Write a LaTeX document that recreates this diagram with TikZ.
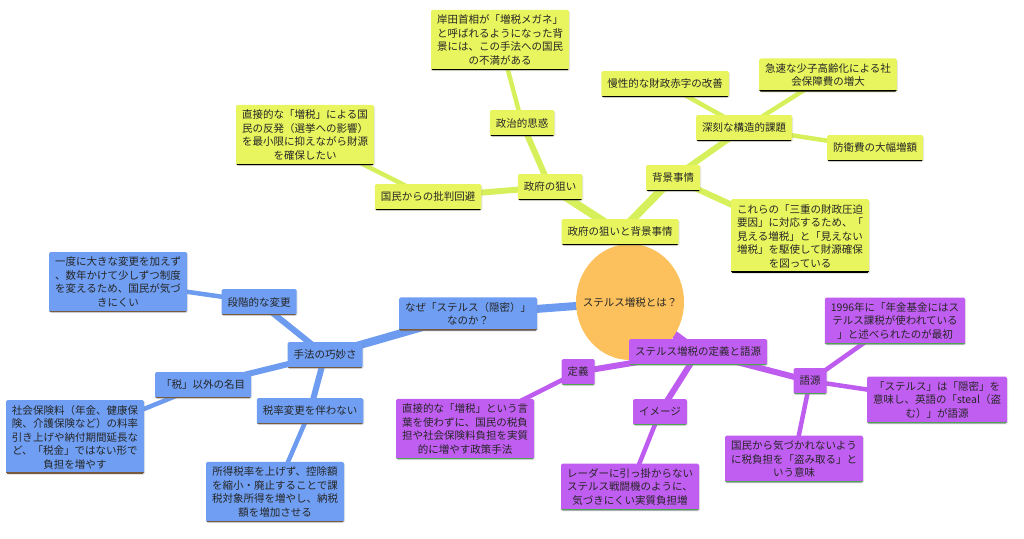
\documentclass[tikz,border=0pt]{standalone}
\usepackage{fontspec}
\setmainfont{Noto Sans CJK JP}
\usetikzlibrary{backgrounds,shadows,shapes.geometric}

\definecolor{yfill}{HTML}{E8F55E}
\definecolor{yline}{HTML}{D6F05C}
\definecolor{ybar}{HTML}{23236E}
\definecolor{bfill}{HTML}{6F9EF2}
\definecolor{bline}{HTML}{6C9BEF}
\definecolor{bbar}{HTML}{7A5A3C}
\definecolor{pfill}{HTML}{C15EF2}
\definecolor{pline}{HTML}{BE5CF0}
\definecolor{pbar}{HTML}{4EA64E}
\definecolor{corange}{HTML}{FCC05C}

\tikzset{
  box/.style={rectangle, rounded corners=1.5pt, inner xsep=6pt, inner ysep=5pt,
    align=center, font=\fontsize{10.5}{13.5}\selectfont, text=black!85,
    drop shadow={opacity=0.2, shadow xshift=1pt, shadow yshift=-1pt}},
  lab/.style={box, minimum height=26pt},
  leaf/.style={box, minimum width=136pt},
  bar/.style={path picture={\draw[#1, line width=3pt]
    (path picture bounding box.south west) -- (path picture bounding box.south east);}},
  ybox/.style={fill=yfill, bar=ybar},
  bbox/.style={fill=bfill, bar=bbar},
  pbox/.style={fill=pfill, bar=pbar},
  l1/.style={line width=8pt},
  l2/.style={line width=6pt},
  l3/.style={line width=4.5pt},
}

\begin{document}
\begin{tikzpicture}[x=1pt, y=-1pt, line cap=round]
  \useasboundingbox (0,0) rectangle (1024,538);

  \node[ellipse, fill=corange, inner sep=0pt, minimum width=108pt, minimum height=116pt,
    label={[font=\fontsize{10.5}{13.5}\selectfont, text=black!85]center:ステルス増税とは？}]
  (c) at (630, 302) {};

  % 政府の狙いと背景事情
  \node[lab, ybox] (y0) at (620, 232) {政府の狙いと背景事情};
  \node[lab, ybox] (y1) at (550, 187) {政府の狙い};
  \node[lab, ybox] (y2) at (522, 123) {政治的思惑};
  \node[leaf, ybox] (y3) at (500, 40)
  {岸田首相が「増税メガネ」\\と呼ばれるようになった背\\景には、この手法への国民\\の不満がある};
  \node[lab, ybox] (y4) at (428, 197) {国民からの批判回避};
  \node[leaf, ybox] (y5) at (305, 135)
  {直接的な「増税」による国\\民の反発（選挙への影響）\\を最小限に抑えながら財源\\を確保したい};
  \node[lab, ybox] (y6) at (673, 178) {背景事情};
  \node[lab, ybox] (y7) at (744, 128) {深刻な構造的課題};
  \node[lab, ybox] (y8) at (665, 84) {慢性的な財政赤字の改善};
  \node[leaf, ybox] (y9) at (828, 75) {急速な少子高齢化による社\\会保障費の増大};
  \node[lab, ybox] (y10) at (875, 148) {防衛費の大幅増額};
  \node[leaf, ybox] (y11) at (800, 236)
  {これらの「三重の財政圧迫\\要因」に対応するため、「\\見える増税」と「見えない\\増税」を駆使して財源確保\\を図っている};

  % なぜ「ステルス」なのか
  \node[leaf, bbox] (b1) at (468, 314) {なぜ「ステルス（隠密）」\\なのか？};
  \node[lab, bbox] (b2) at (325, 355) {手法の巧妙さ};
  \node[lab, bbox] (b3) at (259, 302) {段階的な変更};
  \node[leaf, bbox] (b4) at (118, 282)
  {一度に大きな変更を加えず\\、数年かけて少しずつ制度\\を変えるため、国民が気づ\\きにくい};
  \node[lab, bbox] (b5) at (203, 385) {「税」以外の名目};
  \node[leaf, bbox] (b6) at (75, 437)
  {社会保険料（年金、健康保\\険、介護保険など）の料率\\引き上げや納付期間延長な\\ど、「税金」ではない形で\\負担を増やす};
  \node[lab, bbox] (b7) at (310, 411) {税率変更を伴わない};
  \node[leaf, bbox] (b8) at (275, 492)
  {所得税率を上げず、控除額\\を縮小・廃止することで課\\税対象所得を増やし、納税\\額を増加させる};

  % 定義と語源
  \node[lab, pbox] (p1) at (698, 352) {ステルス増税の定義と語源};
  \node[lab, pbox] (p2) at (578, 372) {定義};
  \node[leaf, pbox] (p3) at (465, 429)
  {直接的な「増税」という言\\葉を使わずに、国民の税負\\担や社会保険料負担を実質\\的に増やす政策手法};
  \node[lab, pbox] (p4) at (660, 412) {イメージ};
  \node[leaf, pbox] (p5) at (630, 487)
  {レーダーに引っ掛からない\\ステルス戦闘機のように、\\気づきにくい実質負担増};
  \node[lab, pbox] (p6) at (810, 381) {語源};
  \node[leaf, pbox] (p7) at (895, 321)
  {1996年に「年金基金にはス\\テルス課税が使われている\\」と述べられたのが最初};
  \node[leaf, pbox] (p8) at (937, 400)
  {「ステルス」は「隠密」を\\意味し、英語の「steal（盗\\む）」が語源};
  \node[leaf, pbox] (p9) at (794, 459)
  {国民から気づかれないよう\\に税負担を「盗み取る」と\\いう意味};

  \begin{scope}[on background layer]
    \draw[yline, l1] (c.center) -- (y0.center);
    \draw[yline, l1] (y0.center) -- (y1.center);
    \draw[yline, l2] (y1.center) -- (y2.center);
    \draw[yline, l3] (y2.center) -- (y3.center);
    \draw[yline, l2] (y1.center) -- (y4.center);
    \draw[yline, l3] (y4.center) -- (y5.center);
    \draw[yline, l1] (y0.center) -- (y6.center);
    \draw[yline, l2] (y6.center) -- (y7.center);
    \draw[yline, l3] (y7.center) -- (y8.center);
    \draw[yline, l3] (y7.center) -- (y9.center);
    \draw[yline, l3] (y7.center) -- (y10.center);
    \draw[yline, l2] (y6.center) -- (y11.center);

    \draw[bline, l1] (c.center) -- (b1.center);
    \draw[bline, l1] (b1.center) -- (b2.center);
    \draw[bline, l2] (b2.center) -- (b3.center);
    \draw[bline, l3] (b3.center) -- (b4.center);
    \draw[bline, l2] (b2.center) -- (b5.center);
    \draw[bline, l3] (b5.center) -- (b6.center);
    \draw[bline, l2] (b2.center) -- (b7.center);
    \draw[bline, l3] (b7.center) -- (b8.center);

    \draw[pline, l1] (c.center) -- (p1.center);
    \draw[pline, l2] (p1.center) -- (p2.center);
    \draw[pline, l3] (p2.center) -- (p3.center);
    \draw[pline, l2] (p1.center) -- (p4.center);
    \draw[pline, l3] (p4.center) -- (p5.center);
    \draw[pline, l2] (p1.center) -- (p6.center);
    \draw[pline, l3] (p6.center) -- (p7.center);
    \draw[pline, l3] (p6.center) -- (p8.center);
    \draw[pline, l3] (p6.center) -- (p9.center);
  \end{scope}
\end{tikzpicture}
\end{document}
